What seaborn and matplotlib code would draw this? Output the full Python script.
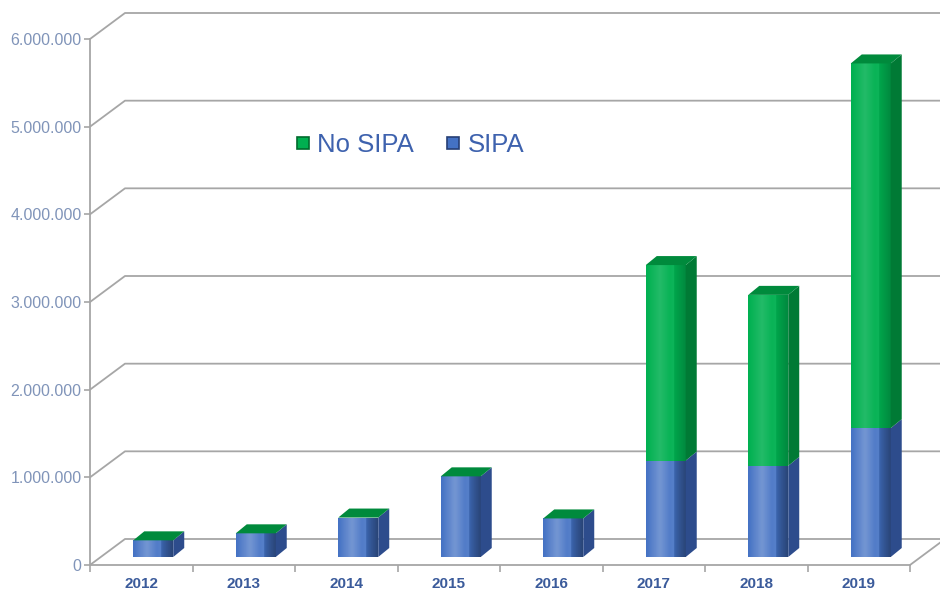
import matplotlib
matplotlib.use("Agg")
import matplotlib.pyplot as plt
import seaborn as sns
import numpy as np
import pandas as pd
from matplotlib.lines import Line2D
from matplotlib.patches import Polygon
from matplotlib.transforms import IdentityTransform

# ---- data ----
years = ["2012", "2013", "2014", "2015", "2016", "2017", "2018", "2019"]
sipa = [190000, 270000, 450000, 920000, 440000, 1100000, 1040000, 1470000]
no_sipa = [0, 0, 0, 0, 0, 2230000, 1950000, 4160000]
y_ticks = [0, 1000000, 2000000, 3000000, 4000000, 5000000, 6000000]
series_labels = ["No SIPA", "SIPA"]

total = [a + b for a, b in zip(sipa, no_sipa)]
df = pd.DataFrame({"year": years, "sipa": sipa, "total": total})

sns.set_theme(style="white")
plt.rcParams["font.family"] = ["Liberation Sans", "DejaVu Sans"]

W, H = 940, 591
DPI = 100
fig = plt.figure(figsize=(W / DPI, H / DPI), dpi=DPI)
fig.patch.set_facecolor("white")

def fx(px):
    return px / W

def fy(py):
    return 1 - py / H

left, right, bottom, top = 90, 910, 565, 39
ax = fig.add_axes([fx(left), fy(bottom), (right - left) / W, (bottom - top) / H])
# bar plane at mid depth
bdx, bdy = 12, 8
ax_b = fig.add_axes([fx(left + bdx), fy(bottom - bdy), (right - left) / W, (bottom - top) / H])

grid_c = "#a6a6a6"
blue = "#4472c4"
blue_side = "#2d4c8c"
green = "#00b050"
green_side = "#007a35"
green_top = "#008a3c"

for a in (ax, ax_b):
    a.set_ylim(0, 6000000)
    a.set_xlim(-0.5, 7.5)

# ---- front axes styling ----
ax.set_facecolor("none")
for s in ["top", "right"]:
    ax.spines[s].set_visible(False)
for s in ["left", "bottom"]:
    ax.spines[s].set_color(grid_c)
    ax.spines[s].set_linewidth(1.3)
ax.set_yticks(y_ticks)
ax.set_yticklabels([f"{v:,}".replace(",", ".") for v in y_ticks],
                   color="#8094b9", fontsize=11.5)
ax.set_xticks(range(len(years)))
ax.set_xticklabels(years, color="#3b5b9b", fontsize=11, fontweight="bold")
ax.set_xticks(np.arange(-0.5, len(years), 1.0), minor=True)
ax.tick_params(axis="y", length=4, width=1.2, color=grid_c, pad=2, left=True)
ax.tick_params(axis="x", which="major", length=0, pad=9)
ax.tick_params(axis="x", which="minor", length=5, width=1.2, color=grid_c, bottom=True)

# ---- back wall gridlines (3D look) ----
wdx, wdy = 35, 26
for v in y_ticks:
    p = ax.transData.transform((-0.5, v))
    xs = [p[0], p[0] + wdx, W]
    ys = [p[1], p[1] + wdy, p[1] + wdy]
    ax.add_line(Line2D(xs, ys, transform=IdentityTransform(), color=grid_c,
                       lw=1.3, clip_on=False, zorder=0))
# floor right edge
p = ax.transData.transform((7.5, 0))
ax.add_line(Line2D([p[0], p[0] + wdx], [p[1], p[1] + wdy], transform=IdentityTransform(),
                   color=grid_c, lw=1.3, clip_on=False, zorder=0))

# ---- bars ----
ax_b.set_facecolor("none")
ax_b.axis("off")
sns.barplot(data=df, x="year", y="total", color=green, saturation=1, width=0.39,
            linewidth=0, ax=ax_b)
sns.barplot(data=df, x="year", y="sipa", color=blue, saturation=1, width=0.39,
            linewidth=0, ax=ax_b)
ax_b.set_xlim(-0.5, 7.5)
ax_b.set_ylim(0, 6000000)

# cylindrical shading on the front faces
u = np.linspace(0, 1, 64)
shade = np.zeros((1, 64, 4))
light = np.clip(1 - np.abs(u - 0.35) / 0.35, 0, 1)
dark = np.clip((u - 0.6) / 0.4, 0, 1)
shade[0, :, :3] = np.where(light[:, None] > 0, 1.0, 0.0)
shade[0, :, 3] = 0.14 * light + 0.22 * dark
for patch in list(ax_b.patches):
    bx, by = patch.get_x(), patch.get_y()
    bw, bh = patch.get_width(), patch.get_height()
    if bh <= 0:
        continue
    im = ax_b.imshow(shade, extent=[bx, bx + bw, by, by + bh], aspect="auto",
                     interpolation="bilinear", zorder=patch.get_zorder() + 0.1)
    im.set_clip_path(patch)
ax_b.set_xlim(-0.5, 7.5)
ax_b.set_ylim(0, 6000000)

ddx, ddy = 11, 9
for i in range(len(years)):
    x0, y0 = ax_b.transData.transform((i - 0.195, 0))
    x1, y1 = ax_b.transData.transform((i + 0.195, sipa[i]))
    _, y2 = ax_b.transData.transform((i, total[i]))
    # blue side
    ax_b.add_patch(Polygon([(x1, y0), (x1 + ddx, y0 + ddy), (x1 + ddx, y1 + ddy), (x1, y1)],
                           closed=True, transform=IdentityTransform(), facecolor=blue_side,
                           edgecolor="none", clip_on=False, zorder=3))
    if no_sipa[i] > 0:
        ax_b.add_patch(Polygon([(x1, y1), (x1 + ddx, y1 + ddy), (x1 + ddx, y2 + ddy), (x1, y2)],
                               closed=True, transform=IdentityTransform(), facecolor=green_side,
                               edgecolor="none", clip_on=False, zorder=3))
    # top face
    ax_b.add_patch(Polygon([(x0, y2), (x1, y2), (x1 + ddx, y2 + ddy), (x0 + ddx, y2 + ddy)],
                           closed=True, transform=IdentityTransform(), facecolor=green_top,
                           edgecolor="none", clip_on=False, zorder=3))

# ---- legend ----
handles = [
    Line2D([], [], marker="s", ls="", markersize=8, markerfacecolor=green,
           markeredgecolor="#006b2c", markeredgewidth=1.2),
    Line2D([], [], marker="s", ls="", markersize=8, markerfacecolor=blue,
           markeredgecolor="#263f75", markeredgewidth=1.2),
]
fig.legend(handles, series_labels, loc="center left", bbox_to_anchor=(fx(286), fy(145)),
           ncol=2, frameon=False, fontsize=18.5, labelcolor="#3e62ae",
           handlelength=0.5, handletextpad=0.3, columnspacing=1.3, borderaxespad=0)

fig.savefig("out.png", dpi=DPI, facecolor="white")
